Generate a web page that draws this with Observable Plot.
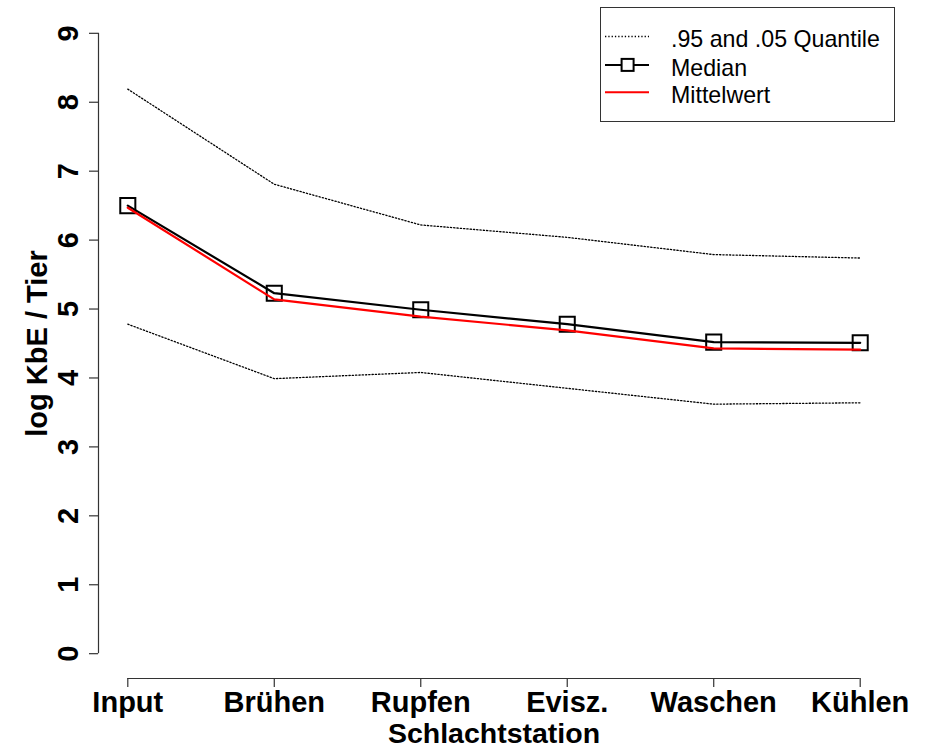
<!DOCTYPE html>
<html>
<head>
<meta charset="utf-8">
<script src="https://cdn.jsdelivr.net/npm/d3@7"></script>
<script src="https://cdn.jsdelivr.net/npm/@observablehq/plot@0.6"></script>
<style>
  body { margin: 0; background: #fff; }
  #wrap { position: relative; width: 932px; height: 749px; font-family: "Liberation Sans", Arial, sans-serif; }
  #legend { position: absolute; left: 600px; top: 7px; }
</style>
</head>
<body>
<div id="wrap"></div>
<script>
const stations = ["Input", "Brühen", "Rupfen", "Evisz.", "Waschen", "Kühlen"];
const median = [6.50, 5.23, 4.99, 4.78, 4.52, 4.51];
const mittelwert = [6.47, 5.14, 4.89, 4.69, 4.43, 4.41];
const q95 = [8.19, 6.81, 6.22, 6.04, 5.79, 5.74];
const q05 = [4.78, 3.99, 4.08, 3.85, 3.62, 3.64];
const yTicks = [0, 1, 2, 3, 4, 5, 6, 7, 8, 9];
const legendLabels = [".95 and .05 Quantile", "Median", "Mittelwert"];

const xIdx = stations.map((s, i) => i);
const xDomain = [-0.2, stations.length - 1 + 0.2];
const yDomain = [-0.36, 9.36];
const axisColor = "#333";
const fs = 29;

const chart = Plot.plot({
  width: 932,
  height: 749,
  marginLeft: 98,
  marginRight: 43,
  marginTop: 8,
  marginBottom: 71,
  style: { fontFamily: "'Liberation Sans', Arial, sans-serif", fontWeight: "bold", background: "#fff", color: "#000" },
  x: { type: "linear", domain: xDomain },
  y: { type: "linear", domain: yDomain },
  marks: [
    Plot.ruleX([xDomain[0]], { x: d => d, y1: yTicks[0], y2: yTicks[yTicks.length - 1], stroke: axisColor, strokeWidth: 1.2 }),
    Plot.ruleY([yDomain[0]], { y: d => d, x1: xIdx[0], x2: xIdx[xIdx.length - 1], stroke: axisColor, strokeWidth: 1.2 }),
    Plot.axisX({ ticks: xIdx, tickFormat: i => stations[i], tickSize: 9, tickPadding: 3.5, fontSize: fs, fontWeight: "bold", stroke: axisColor, strokeWidth: 1.2, label: null }),
    Plot.axisY({ ticks: yTicks, tickFormat: () => "", tickSize: 9, stroke: axisColor, strokeWidth: 1.2, label: null }),
    Plot.text(yTicks, { y: d => d, text: d => String(d), frameAnchor: "left", dx: -20.7, rotate: -90, textAnchor: "middle", lineAnchor: "bottom", fontSize: fs, fontWeight: "bold", fill: "#000" }),
    Plot.text(["Schlachtstation"], { frameAnchor: "bottom", dy: 64.5, lineAnchor: "bottom", fontSize: 28.5, fontWeight: "bold", fill: "#000" }),
    Plot.text(["log KbE / Tier"], { frameAnchor: "left", dx: -52, rotate: -90, textAnchor: "middle", lineAnchor: "bottom", fontSize: fs, fontWeight: "bold", fill: "#000" }),
    Plot.line(q95, { x: (d, i) => i, y: d => d, stroke: "#000", strokeWidth: 1.3, strokeDasharray: "1.3,2" }),
    Plot.line(q05, { x: (d, i) => i, y: d => d, stroke: "#000", strokeWidth: 1.3, strokeDasharray: "1.3,2" }),
    Plot.line(median, { x: (d, i) => i, y: d => d, stroke: "#000", strokeWidth: 2.2 }),
    Plot.dot(median, { x: (d, i) => i, y: d => d, symbol: "square", r: 8.5, stroke: "#000", strokeWidth: 2, fill: "none" }),
    Plot.line(mittelwert, { x: (d, i) => i, y: d => d, stroke: "#ff0000", strokeWidth: 2.2 })
  ]
});

const wrap = document.getElementById("wrap");
wrap.appendChild(chart);

const lg = d3.select(wrap).append("svg").attr("id", "legend")
  .attr("width", 296).attr("height", 117);
lg.append("rect").attr("x", 0.5).attr("y", 0.5).attr("width", 294).attr("height", 114)
  .attr("fill", "#fff").attr("stroke", "#333").attr("stroke-width", 1);
const rowsY = [29.5, 57.9, 85.2];
const textY = [39.6, 69, 96];
lg.append("line").attr("x1", 5).attr("x2", 49).attr("y1", rowsY[0]).attr("y2", rowsY[0])
  .attr("stroke", "#000").attr("stroke-width", 1.3).attr("stroke-dasharray", "1.3,2");
lg.append("line").attr("x1", 5).attr("x2", 49).attr("y1", rowsY[1]).attr("y2", rowsY[1])
  .attr("stroke", "#000").attr("stroke-width", 2);
lg.append("rect").attr("x", 21.6).attr("y", rowsY[1] - 6).attr("width", 12).attr("height", 12)
  .attr("fill", "#fff").attr("stroke", "#000").attr("stroke-width", 2);
lg.append("line").attr("x1", 5).attr("x2", 49).attr("y1", rowsY[2]).attr("y2", rowsY[2])
  .attr("stroke", "#ff0000").attr("stroke-width", 2);
legendLabels.forEach((t, i) => {
  lg.append("text").attr("x", 71).attr("y", textY[i]).text(t)
    .attr("font-family", "'Liberation Sans', Arial, sans-serif").attr("font-size", 23.2).attr("fill", "#000");
});
</script>
</body>
</html>
